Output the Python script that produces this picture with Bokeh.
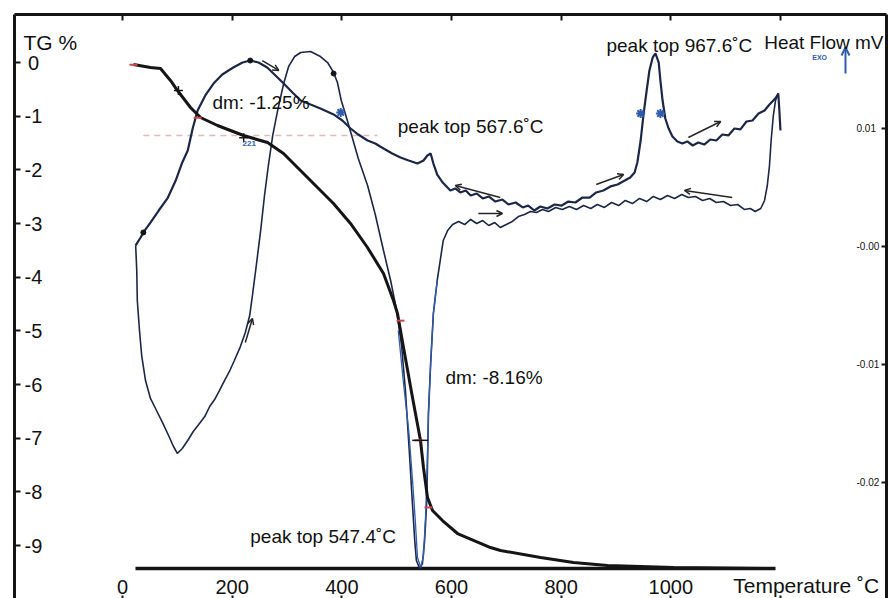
from bokeh.plotting import figure
from bokeh.models import Range1d, LinearAxis, FixedTicker, Label, Arrow, OpenHead, Grid
from bokeh.core.properties import value
from bokeh.embed import file_html
from bokeh.resources import INLINE

# ---------------- data ----------------
# TG curve (mass change, %)
tg_temp = [20.1, 51.1, 69.3, 87.5, 100.3, 124.0, 142.3, 173.3, 220.7, 264.5, 293.6, 324.6,
           355.6, 384.8, 415.8, 446.8, 476.0, 494.2, 501.5, 512.5, 528.9, 543.5, 548.9, 556.3,
           565.4, 583.6, 611.0, 671.2, 689.4, 762.4, 822.5, 884.5, 1004.9, 1187.3]
tg_mass = [-0.037, -0.093, -0.112, -0.335, -0.522, -0.838, -1.025, -1.174, -1.360, -1.491,
           -1.696, -2.012, -2.329, -2.627, -2.999, -3.447, -3.932, -4.435, -4.677, -5.310,
           -6.242, -7.043, -7.546, -8.105, -8.348, -8.534, -8.776, -9.037, -9.093, -9.223,
           -9.317, -9.372, -9.410, -9.428]

# horizontal base line of the TG trace
base_temp = [23.7, 1191.0]
base_mass = [-9.43, -9.43]

# onset construction line (dashed)
onset_temp = [38, 465]
onset_mass = [-1.36, -1.36]

# DSC heating trace (heat flow, mV)
dsc_heat_temp = [24, 33, 38, 51, 66, 82, 97, 109, 119, 128,
                 137, 151, 166, 182, 202, 219, 233, 248, 264, 279,
                 294, 310, 325, 343, 361, 385, 401, 416, 430, 447,
                 461, 476, 492, 507, 522, 538, 549, 556, 562, 567,
                 574, 584, 598, 607, 616, 626, 635, 646, 657, 668,
                 680, 693, 704, 717, 730, 740, 751, 762, 775, 788,
                 801, 813, 826, 839, 852, 864, 877, 890, 903, 916,
                 926, 934, 939, 945, 950, 956, 961, 967, 972, 978,
                 981, 985, 990, 996, 1003, 1012, 1021, 1030, 1040, 1050,
                 1061, 1072, 1083, 1094, 1105, 1116, 1127, 1138, 1149, 1160,
                 1171, 1180, 1187, 1192, 1196, 1198, 1200]
dsc_heat_hf = [0.0001, 0.00076, 0.00119, 0.00203, 0.00305, 0.00407, 0.00559, 0.00712, 0.00814, 0.01000,
               0.01153, 0.01280, 0.01381, 0.01458, 0.01517, 0.01559, 0.01576, 0.01559, 0.01517, 0.01449,
               0.01381, 0.01305, 0.01237, 0.01203, 0.01170, 0.01119, 0.01068, 0.01000, 0.00949, 0.00898,
               0.00873, 0.00831, 0.00788, 0.00754, 0.00729, 0.00703, 0.00729, 0.00771, 0.00788, 0.00703,
               0.00610, 0.00542, 0.00475, 0.00492, 0.00458, 0.00475, 0.00432, 0.00449, 0.00407, 0.00424,
               0.00381, 0.00398, 0.00356, 0.00373, 0.00331, 0.00347, 0.00305, 0.00339, 0.00322, 0.00356,
               0.00347, 0.00381, 0.00373, 0.00415, 0.00415, 0.00458, 0.00475, 0.00509, 0.00525, 0.00559,
               0.00585, 0.00627, 0.00712, 0.00898, 0.01110, 0.01322, 0.01492, 0.01602, 0.01636, 0.01559,
               0.01407, 0.01237, 0.01085, 0.01000, 0.00932, 0.00890, 0.00873, 0.00890, 0.00856, 0.00881,
               0.00864, 0.00907, 0.00898, 0.00949, 0.00941, 0.01000, 0.00992, 0.01059, 0.01068, 0.01127,
               0.01153, 0.01203, 0.01237, 0.01263, 0.01297, 0.01153, 0.00983]

# DSC loop trace (heat flow, mV)
dsc_loop_temp = [24, 26, 27, 31, 35, 42, 51, 62, 73, 84,
                 93, 100, 109, 119, 129, 139, 150, 159, 168, 177,
                 186, 195, 204, 215, 224, 232, 237, 244, 252, 259,
                 266, 274, 283, 294, 303, 314, 325, 343, 361, 374,
                 385, 392, 399, 409, 418, 430, 447, 461, 476, 489,
                 500, 509, 516, 523, 529, 533, 536, 542, 547, 551,
                 555, 558, 562, 567, 574, 580, 585, 593, 602, 613,
                 624, 635, 646, 657, 668, 679, 689, 700, 711, 722,
                 733, 744, 755, 766, 777, 790, 802, 815, 828, 841,
                 854, 866, 879, 892, 905, 917, 930, 943, 956, 968,
                 981, 994, 1007, 1020, 1032, 1045, 1058, 1071, 1083, 1096,
                 1109, 1122, 1134, 1145, 1154, 1164, 1171, 1176, 1180, 1183,
                 1187, 1191, 1196]
dsc_loop_hf = [0.0001, -0.00203, -0.00458, -0.00712, -0.00924, -0.01136, -0.01288, -0.01390, -0.01492, -0.01602,
               -0.01695, -0.01754, -0.01712, -0.01644, -0.01568, -0.01509, -0.01441, -0.01356, -0.01297, -0.01220,
               -0.01136, -0.01059, -0.00966, -0.00848, -0.00729, -0.00585, -0.00415, -0.00161, 0.00136, 0.00432,
               0.00686, 0.00941, 0.01153, 0.01381, 0.01526, 0.01610, 0.01644, 0.01653, 0.01610, 0.01559,
               0.01475, 0.01390, 0.01237, 0.01085, 0.00941, 0.00746, 0.00517, 0.00271, -0.00034, -0.00288,
               -0.00542, -0.00839, -0.01220, -0.01729, -0.02195, -0.02492, -0.02661, -0.02729, -0.02687, -0.02492,
               -0.02153, -0.01415, -0.00992, -0.00568, -0.00288, -0.00102, 0.00051, 0.00136, 0.00186, 0.00212,
               0.00186, 0.00229, 0.00195, 0.00220, 0.00178, 0.00203, 0.00161, 0.00186, 0.00212, 0.00254,
               0.00271, 0.00297, 0.00288, 0.00314, 0.00297, 0.00331, 0.00314, 0.00339, 0.00314, 0.00347,
               0.00322, 0.00356, 0.00331, 0.00373, 0.00347, 0.00390, 0.00364, 0.00407, 0.00381, 0.00424,
               0.00398, 0.00432, 0.00407, 0.00441, 0.00415, 0.00424, 0.00390, 0.00407, 0.00373, 0.00381,
               0.00347, 0.00356, 0.00314, 0.00322, 0.00297, 0.00322, 0.00390, 0.00517, 0.00686, 0.00898,
               0.01110, 0.01237, 0.01297]

# blue trace through the 547 degC dip
dsc_blue_temp = [503, 512, 522, 529, 534, 538, 544, 549, 553, 556, 558, 562, 567, 574]
dsc_blue_hf = [-0.00712, -0.01136, -0.01559, -0.01983, -0.02322, -0.02636, -0.02720,
               -0.02619, -0.02263, -0.01814, -0.01415, -0.00992, -0.00568, -0.00288]

# markers
peak_mark_temp = [398, 945, 981]
peak_mark_hf = [0.01136, 0.01127, 0.01127]
dot_temp = [38, 233, 385]
dot_hf = [0.00119, 0.01576, 0.01466]
tg_cross_temp = [102, 221]
tg_cross_mass = [-0.52, -1.40]
tg_dash_temp = [543]
tg_dash_mass = [-7.04]
red_mark_temp = [20, 137, 507, 540, 558]
red_mark_mass = [-0.04, -1.03, -4.81, -7.04, -8.29]

# direction arrows drawn on the DSC traces: (x0, y0, x1, y1) in degC / mV
dir_arrows = [(689, 0.00415, 607, 0.00517),
              (649, 0.00280, 693, 0.00280),
              (864, 0.00525, 914, 0.00610),
              (1032, 0.00924, 1091, 0.01059),
              (1112, 0.00415, 1025, 0.00475),
              (224, -0.00814, 237, -0.00610),
              (255, 0.01576, 285, 0.01492)]

# axis ticks and their labels
tg_ticks = [0, -1, -2, -3, -4, -5, -6, -7, -8, -9]
tg_tick_labels = ["0", "-1", "-2", "-3", "-4", "-5", "-6", "-7", "-8", "-9"]
hf_ticks = [0.01, 0.0, -0.01, -0.02]
hf_tick_labels = ["0.01", "-0.00", "-0.01", "-0.02"]
temp_ticks = [0, 200, 400, 600, 800, 1000]
temp_tick_labels = ["0", "200", "400", "600", "800", "1000"]
frame_ticks = [0, 200, 400, 600, 800, 1000, 1200]

# annotation texts: (x degC, y TG%, text, size, align)
annotations = [(-180.6, 0.373, "TG %", "21px", "left"),
               (164, -0.745, "dm: -1.25%", "19px", "left"),
               (502, -1.193, "peak top 567.6\u02daC", "19px", "left"),
               (882.7, 0.317, "peak top 967.6\u02daC", "19px", "left"),
               (1387.9, 0.373, "Heat Flow mV", "19px", "right"),
               (589, -5.869, "dm: -8.16%", "19px", "left"),
               (233, -8.832, "peak top 547.4\u02daC", "19px", "left"),
               (1380.0, -9.745, "Temperature \u02daC", "21px", "right")]

FONT = "Liberation Sans"
INK = "#151515"
NAVY = "#1c2748"
BLUE = "#2f5cad"

# positions of the in-frame tick label columns / rows (data units)
LEFT_LABEL_X = -162.3      # degC
RIGHT_LABEL_X = 1338.7     # degC
BOTTOM_LABEL_Y = -9.764    # TG %

p = figure(width=889, height=598,
           x_range=Range1d(-196.97, 1393.4), y_range=Range1d(-9.987, 0.8944),
           output_backend="svg", toolbar_location=None,
           x_axis_location=None, y_axis_location=None,
           min_border_left=14, min_border_top=14, min_border_right=3, min_border_bottom=0,
           background_fill_color="white", border_fill_color="white",
           outline_line_color=None)
p.extra_y_ranges = {"hf": Range1d(-0.029831, 0.019661)}
for g in p.select(type=Grid):
    g.visible = False


def frame_axis(ax, tick_in):
    # axis drawn as frame line + inward ticks; labels are printed inside the frame
    ax.axis_line_color = INK
    ax.axis_line_width = 3
    ax.major_tick_in = tick_in
    ax.major_tick_out = 0
    ax.major_tick_line_color = INK
    ax.major_tick_line_width = 2
    ax.minor_tick_line_color = None
    ax.major_label_standoff = 0
    ax.major_label_text_font_size = "0px"
    ax.major_label_text_color = None


left = LinearAxis(ticker=FixedTicker(ticks=tg_ticks))
frame_axis(left, 6)
p.add_layout(left, "left")

right = LinearAxis(y_range_name="hf", ticker=FixedTicker(ticks=hf_ticks))
frame_axis(right, 5)
p.add_layout(right, "right")

top = LinearAxis(ticker=FixedTicker(ticks=frame_ticks))
frame_axis(top, 6)
p.add_layout(top, "above")

bottom = LinearAxis(ticker=FixedTicker(ticks=frame_ticks))
frame_axis(bottom, 3)
bottom.axis_line_color = None
p.add_layout(bottom, "below")

# tick labels, printed inside the frame as in the original
p.text(x=[LEFT_LABEL_X] * len(tg_ticks), y=tg_ticks, text=tg_tick_labels,
       text_font=value(FONT), text_font_size=value("20px"), text_color="#111111",
       text_align="center", text_baseline="middle")
p.text(x=[RIGHT_LABEL_X] * len(hf_ticks), y=hf_ticks, text=hf_tick_labels,
       y_range_name="hf", text_font=value(FONT), text_font_size=value("10px"),
       text_color="#111111", text_align="left", text_baseline="middle")
p.text(x=temp_ticks, y=[BOTTOM_LABEL_Y] * len(temp_ticks), text=temp_tick_labels,
       text_font=value(FONT), text_font_size=value("20px"), text_color="#111111",
       text_align="center", text_baseline="alphabetic")

# traces
p.line(onset_temp, onset_mass, line_color="#e2b9b9", line_width=1.5, line_dash="6 5")
p.line(base_temp, base_mass, line_color=INK, line_width=3.5)
p.line(dsc_loop_temp, dsc_loop_hf, y_range_name="hf", line_color=NAVY, line_width=1.6)
p.line(dsc_blue_temp, dsc_blue_hf, y_range_name="hf", line_color=BLUE, line_width=1.3)
p.line(dsc_heat_temp, dsc_heat_hf, y_range_name="hf", line_color=NAVY, line_width=2.2)
p.line(tg_temp, tg_mass, line_color=INK, line_width=3)

p.scatter(red_mark_temp, red_mark_mass, marker="dash", size=8, line_color="#d04848", line_width=2)
p.scatter(tg_cross_temp, tg_cross_mass, marker="cross", size=9, line_color=INK, line_width=1.5)
p.scatter(tg_dash_temp, tg_dash_mass, marker="dash", size=16, line_color=INK, line_width=1.5)
p.scatter(peak_mark_temp, peak_mark_hf, y_range_name="hf", marker="asterisk", size=9,
          line_color=BLUE, line_width=2)
p.scatter(dot_temp, dot_hf, y_range_name="hf", marker="circle", size=5,
          fill_color=INK, line_color=INK)

for x0, y0, x1, y1 in dir_arrows:
    p.add_layout(Arrow(x_start=x0, y_start=y0, x_end=x1, y_end=y1, y_range_name="hf",
                       line_color="#262626", line_width=1.5,
                       end=OpenHead(size=6, line_color="#262626", line_width=1.5)))

# exo marker
p.add_layout(Arrow(x_start=1318.6, y_start=-0.205, x_end=1318.6, y_end=0.28,
                   line_color=BLUE, line_width=2,
                   end=OpenHead(size=8, line_color=BLUE, line_width=2)))
p.add_layout(Label(x=1258, y=0.093, text="EXO", text_font=FONT, text_font_size="7px",
                   text_font_style="bold", text_color=BLUE, text_baseline="alphabetic"))
p.add_layout(Label(x=219, y=-1.51, text="221", text_font=FONT, text_font_size="8px",
                   text_font_style="bold", text_color=BLUE, text_baseline="alphabetic"))

for x, y, txt, size, align in annotations:
    p.add_layout(Label(x=x, y=y, text=txt, text_font=FONT, text_font_size=size,
                       text_color="#111111", text_align=align, text_baseline="alphabetic"))

open("out.html", "w").write(file_html(p, INLINE))
